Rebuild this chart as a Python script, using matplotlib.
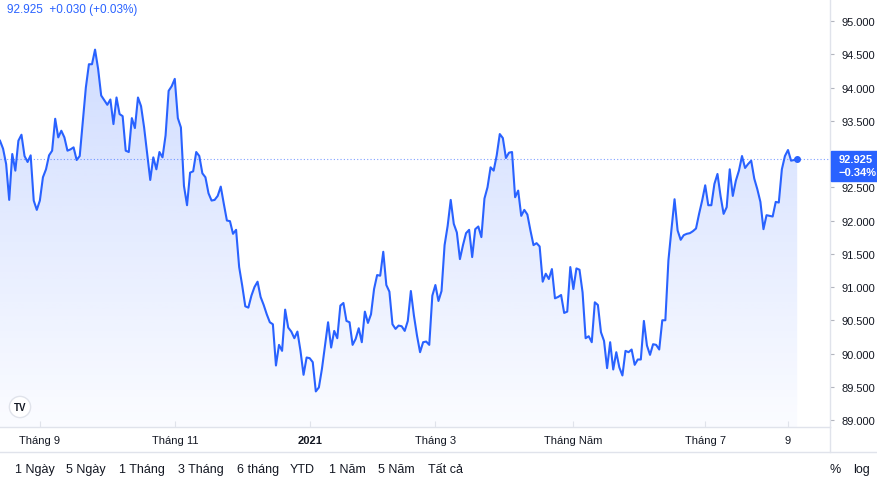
import numpy as np
import pandas as pd
import matplotlib
matplotlib.use('Agg')
import matplotlib.pyplot as plt
from matplotlib.colors import to_rgb
from matplotlib.patches import Rectangle
from matplotlib.lines import Line2D

plt.rcParams['font.family'] = ['Liberation Sans', 'DejaVu Sans']

# daily closes, one per business day
dates = pd.bdate_range('2020-08-13', '2021-08-12')
price = [
    93.20, 93.08, 92.85, 92.31, 93.00, 92.75, 93.20, 93.29, 92.97, 92.88,
    92.98, 92.30, 92.16, 92.30, 92.65, 92.77, 92.98, 93.05, 93.53, 93.25,
    93.35, 93.25, 93.05, 93.07, 93.10, 92.91, 92.97, 93.48, 94.00, 94.35,
    94.35, 94.57, 94.28, 93.88, 93.81, 93.74, 93.82, 93.45, 93.85, 93.60,
    93.57, 93.05, 93.03, 93.54, 93.39, 93.85, 93.72, 93.40, 93.00, 92.61,
    92.95, 92.77, 93.03, 92.95, 93.28, 93.95, 94.02, 94.13, 93.54, 93.40,
    92.52, 92.23, 92.72, 92.74, 93.03, 92.97, 92.71, 92.65, 92.41, 92.30,
    92.31, 92.37, 92.51, 92.25, 92.00, 91.99, 91.80, 91.86, 91.30, 91.02,
    90.71, 90.69, 90.87, 91.00, 91.08, 90.85, 90.73, 90.59, 90.47, 90.44,
    89.82, 90.13, 90.04, 90.66, 90.39, 90.33, 90.23, 90.33, 90.04, 89.68,
    89.94, 89.93, 89.87, 89.43, 89.49, 89.77, 90.12, 90.47, 90.09, 90.34,
    90.23, 90.72, 90.76, 90.49, 90.47, 90.13, 90.22, 90.38, 90.17, 90.63,
    90.46, 90.59, 90.97, 91.18, 91.17, 91.53, 91.03, 90.93, 90.44, 90.37,
    90.42, 90.41, 90.34, 90.49, 90.94, 90.57, 90.27, 90.02, 90.17, 90.18,
    90.13, 90.87, 91.03, 90.79, 90.94, 91.63, 91.92, 92.31, 91.95, 91.82,
    91.42, 91.63, 91.81, 91.86, 91.45, 91.87, 91.91, 91.75, 92.33, 92.50,
    92.80, 92.75, 92.98, 93.30, 93.24, 92.94, 93.02, 93.03, 92.35, 92.45,
    92.07, 92.16, 92.09, 91.85, 91.63, 91.66, 91.61, 91.08, 91.20, 91.12,
    91.27, 90.83, 90.85, 90.88, 90.61, 90.63, 91.30, 90.97, 91.28, 91.26,
    90.92, 90.23, 90.26, 90.17, 90.77, 90.73, 90.32, 90.19, 89.78, 90.17,
    89.76, 90.02, 89.79, 89.67, 90.04, 90.02, 90.06, 89.83, 89.91, 89.91,
    90.49, 90.12, 89.98, 90.14, 90.13, 90.06, 90.50, 90.50, 91.40, 91.87,
    92.32, 91.85, 91.71, 91.78, 91.80, 91.81, 91.84, 91.88, 92.10, 92.30,
    92.53, 92.23, 92.23, 92.55, 92.70, 92.37, 92.10, 92.20, 92.77, 92.37,
    92.60, 92.75, 92.97, 92.79, 92.85, 92.90, 92.63, 92.47, 92.28, 91.87,
    92.08, 92.07, 92.06, 92.28, 92.27, 92.77, 92.97, 93.06, 92.90, 92.91,
    92.925,
]
tick_dates = ['2020-09-01', '2020-11-02', '2021-01-01', '2021-03-01',
              '2021-05-03', '2021-07-01', '2021-08-09']
tick_labels = ['Tháng 9', 'Tháng 11', '2021', 'Tháng 3', 'Tháng Năm', 'Tháng 7', '9']
y_ticks = [89.0, 89.5, 90.0, 90.5, 91.0, 91.5, 92.0, 92.5, 93.0, 93.5, 94.0, 94.5, 95.0]
last_price = 92.925
header = '92.925  +0.030 (+0.03%)'
change_pct = '\u22120.34%'
buttons = ['1 Ngày', '5 Ngày', '1 Tháng', '3 Tháng', '6 tháng', 'YTD', '1 Năm', '5 Năm', 'Tất cả']
button_x = [15, 66, 119, 178, 237, 290, 329, 378, 428]

BLUE = '#2962FF'
TXT = '#131722'
BORDER = '#e0e3eb'
W, H = 878, 485

fig = plt.figure(figsize=(W / 100, H / 100), dpi=100)
ax = fig.add_axes([0, 57 / H, 830 / W, 428 / H])
x = np.arange(len(price))
y = np.array(price)
ymin, ymax = 88.895, 95.331

# gradient area under the line
poly = ax.fill_between(x, y, ymin, color='none', lw=0)
grad = np.zeros((256, 1, 4))
grad[..., :3] = to_rgb(BLUE)
grad[:, 0, 3] = np.linspace(0.02, 0.22, 256)
im = ax.imshow(grad, extent=[0, x[-1], ymin, y.max()], origin='lower',
               aspect='auto', zorder=1, interpolation='bilinear')
im.set_clip_path(poly.get_paths()[0], transform=ax.transData)

ax.plot(x, y, color=BLUE, lw=1.5, zorder=3, solid_joinstyle='round')
ax.plot(x[-1], y[-1], 'o', ms=4, color=BLUE, zorder=4)
ax.axhline(last_price, color=BLUE, ls=(0, (1, 2)), lw=0.8, alpha=0.6, zorder=2)

ax.set_xlim(0, 270.7)
ax.set_ylim(ymin, ymax)

tick_pos = [dates.get_loc(pd.Timestamp(d)) for d in tick_dates]
ax.set_xticks(tick_pos)
ax.set_xticklabels(tick_labels)
for lbl in ax.get_xticklabels():
    if lbl.get_text() == '2021':
        lbl.set_fontweight('bold')
ax.tick_params(axis='x', direction='in', length=4, color=BORDER,
               labelsize=8, labelcolor=TXT, pad=6)

ax.yaxis.tick_right()
ax.set_yticks(y_ticks)
ax.set_yticklabels(['%.3f' % v for v in y_ticks])
ax.tick_params(axis='y', length=3, color='#b2b5be', labelsize=8,
               labelcolor=TXT, pad=5)

for s in ['top', 'left']:
    ax.spines[s].set_visible(False)
for s in ['right', 'bottom']:
    ax.spines[s].set_color(BORDER)
    ax.spines[s].set_linewidth(1)

# lower strip: separator and vertical continuation of price-axis border
fig.add_artist(Line2D([0, 1], [1 - 453 / H] * 2, color=BORDER, lw=1))
fig.add_artist(Line2D([830 / W] * 2, [1 - 428 / H, 1 - 453 / H], color=BORDER, lw=1))

# last price label on the axis
fig.add_artist(Rectangle((831 / W, 1 - 182 / H), 47 / W, 30 / H,
                         color=BLUE, zorder=5))
fig.text(839 / W, 1 - 160.5 / H, '92.925', color='white', fontsize=8,
         fontweight='bold', va='center', ha='left', zorder=6)
fig.text(839 / W, 1 - 173.5 / H, change_pct, color='white', fontsize=8,
         fontweight='bold', va='center', ha='left', zorder=6)

fig.text(7 / W, 1 - 10 / H, header, color=BLUE, fontsize=8.5, va='center', ha='left')

fig.text(20 / W, 1 - 408 / H, 'TV', color=TXT, fontsize=7, fontweight='bold',
         ha='center', va='center',
         bbox=dict(boxstyle='circle,pad=0.45', fc='white', ec=BORDER, lw=1))

for lab, bx in zip(buttons, button_x):
    fig.text(bx / W, 1 - 470 / H, lab, color=TXT, fontsize=9, va='center', ha='left')
fig.text(830 / W, 1 - 470 / H, '%', color=TXT, fontsize=9, va='center', ha='left')
fig.text(853 / W, 1 - 470 / H, 'log', color=TXT, fontsize=9, va='center', ha='left')

fig.savefig('out.png', dpi=100)
